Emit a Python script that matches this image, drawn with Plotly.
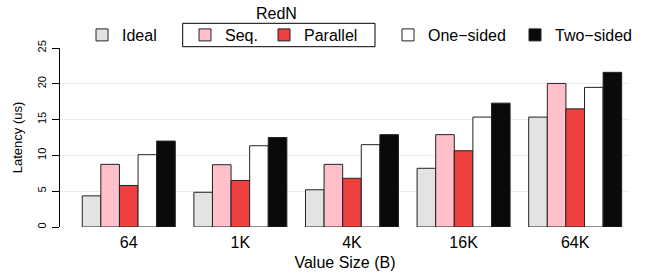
import plotly.graph_objects as go

categories = ["64", "1K", "4K", "16K", "64K"]
series_names = ["Ideal", "Seq.", "Parallel", "One\u2212sided", "Two\u2212sided"]
ideal = [4.35, 4.85, 5.2, 8.2, 15.35]
seq = [8.75, 8.7, 8.75, 12.9, 20.05]
parallel = [5.8, 6.5, 6.8, 10.65, 16.5]
one_sided = [10.1, 11.35, 11.5, 15.35, 19.5]
two_sided = [12.0, 12.5, 12.9, 17.3, 21.6]
y_ticks = [0, 5, 10, 15, 20, 25]
grid_vals = [5, 10, 15, 20]

colors = ["#E3E3E3", "#FFC0CB", "#EE4040", "#FFFFFF", "#0A0A0A"]
values = [ideal, seq, parallel, one_sided, two_sided]
legend_ids = ["legend", "legend2", "legend3", "legend4", "legend5"]

FONT = "Liberation Sans, Arial, Helvetica, sans-serif"
W, H = 652, 277
ML, MR, MT, MB = 60, 22, 48, 50
pw = W - ML - MR
ph = H - MT - MB

def px_x(p):
    return (p - ML) / pw

def px_y(p):
    return (H - MB - p) / ph

fig = go.Figure()
for name, vals, col, lg in zip(series_names, values, colors, legend_ids):
    fig.add_trace(go.Bar(
        x=categories, y=vals, name=name, legend=lg, showlegend=True,
        marker=dict(color=col, line=dict(color="#222222", width=1)),
    ))

text_starts = [122, 225, 304, 428, 555]
leg_y = px_y(35)
layout_legends = {}
for lg, ts in zip(legend_ids, text_starts):
    layout_legends[lg] = dict(
        visible=True,
        x=px_x(ts - 40), y=leg_y, xanchor="left", yanchor="middle",
        orientation="h", bgcolor="rgba(0,0,0,0)", borderwidth=0,
        font=dict(family=FONT, size=16, color="#000"),
        itemclick=False, itemdoubleclick=False,
    )

fig.update_layout(
    width=W, height=H,
    showlegend=True,
    margin=dict(l=ML, r=MR, t=MT, b=MB),
    paper_bgcolor="white", plot_bgcolor="white",
    barmode="group", bargap=0.1667, bargroupgap=0,
    font=dict(family=FONT, color="#000"),
    **layout_legends,
    xaxis=dict(
        range=[-0.616, 4.491], showline=False, ticks="", showgrid=False,
        tickfont=dict(size=16, family=FONT, color="#000"),
        ticklabelstandoff=4,
        title=dict(text="Value Size (B)", font=dict(size=16, family=FONT, color="#000"), standoff=6),
        automargin=False,
    ),
    yaxis=dict(
        range=[0, 25], tickvals=y_ticks, ticktext=[str(v) for v in y_ticks],
        showline=True, linecolor="#000", linewidth=1,
        ticks="outside", ticklen=7, tickcolor="#000", tickwidth=1,
        tickangle=-90, tickfont=dict(size=11, family=FONT, color="#000"),
        ticklabelstandoff=2,
        showgrid=False, zeroline=False,
        title=dict(text="Latency (us)", font=dict(size=13, family=FONT, color="#000"), standoff=10),
        automargin=False,
    ),
    yaxis2=dict(
        overlaying="y", range=[0, 25], tickvals=grid_vals, showticklabels=False,
        ticks="", showline=False, showgrid=True, gridcolor="#EBEBEB", gridwidth=1,
        zeroline=False, layer="below traces",
    ),
    shapes=[dict(type="rect", xref="paper", yref="paper",
                 x0=px_x(182.7), x1=px_x(375), y0=px_y(46.7), y1=px_y(23.3),
                 line=dict(color="#000", width=1), fillcolor="rgba(0,0,0,0)")],
    annotations=[dict(text="RedN", xref="paper", yref="paper", x=px_x(276.7), y=px_y(13),
                      showarrow=False, xanchor="center", yanchor="middle",
                      font=dict(size=16, family=FONT, color="#000"))],
)

# invisible helper trace so the grid axis is drawn
fig.add_trace(go.Scatter(x=[categories[0]], y=[0], yaxis="y2", mode="markers",
                         marker=dict(opacity=0), showlegend=False, hoverinfo="skip"))

fig.write_html("out.html", config={"displayModeBar": False},
               post_script="document.body.style.margin='0px';")
